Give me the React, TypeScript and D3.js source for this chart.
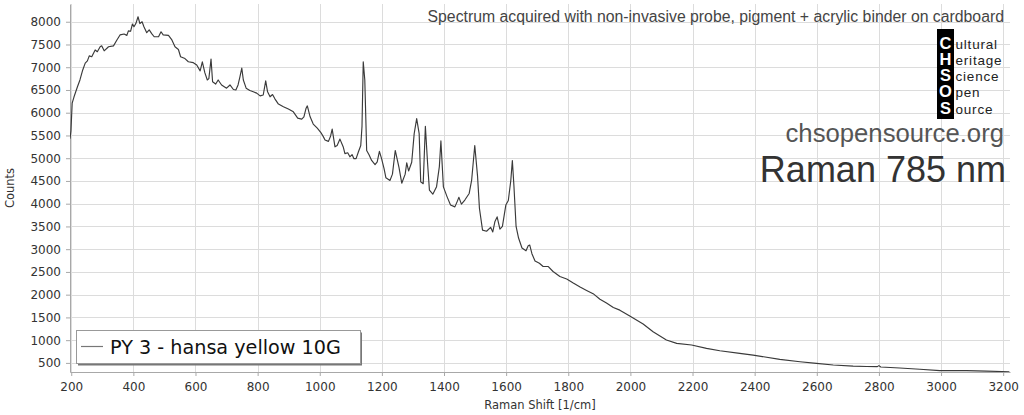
import React, { useEffect, useRef } from 'react';
import * as d3 from 'd3';

// Raman shift (1/cm) and counts
const ramanShift = [
  196, 199, 203, 209, 220, 228, 237, 245, 252, 258, 266, 277, 284, 293, 298, 306, 320, 336, 347, 357,
  370, 379, 384, 391, 397, 402, 408, 415, 421, 428, 434, 443, 451, 459, 467, 481, 489, 496, 513, 524,
  534, 545, 552, 566, 577, 593, 604, 615, 622, 630, 638, 643, 650, 655, 665, 673, 684, 700, 711, 722,
  730, 737, 743, 749, 754, 763, 775, 786, 797, 808, 818, 826, 832, 840, 848, 856, 867, 883, 899, 915,
  929, 942, 949, 956, 960, 969, 979, 992, 1003, 1011, 1017, 1028, 1035, 1040, 1049, 1056, 1065, 1076, 1081, 1090,
  1097, 1104, 1110, 1117, 1124, 1132, 1136, 1140, 1145, 1151, 1159, 1167, 1178, 1185, 1192, 1199, 1207, 1213, 1226, 1234,
  1243, 1255, 1264, 1275, 1280, 1286, 1296, 1304, 1312, 1320, 1325, 1333, 1340, 1347, 1353, 1364, 1376, 1385, 1390, 1398,
  1410, 1421, 1435, 1442, 1448, 1456, 1467, 1481, 1489, 1499, 1508, 1514, 1524, 1537, 1550, 1557, 1564, 1571, 1580, 1588,
  1599, 1607, 1615, 1620, 1625, 1632, 1640, 1651, 1664, 1671, 1676, 1683, 1693, 1707, 1719, 1735, 1751, 1773, 1795, 1816,
  1838, 1859, 1880, 1902, 1923, 1945, 1966, 1998, 2041, 2073, 2116, 2149, 2197, 2245, 2288, 2352, 2395, 2481, 2546, 2599,
  2653, 2717, 2760, 2795, 2800, 2806, 2867, 2932, 2996, 3082, 3146, 3220,
];
const counts = [
  5430, 5600, 6210, 6350, 6570, 6720, 6940, 7090, 7140, 7250, 7230, 7380, 7340, 7450, 7470, 7360, 7450, 7470, 7600, 7710,
  7730, 7700, 7800, 7790, 7950, 7890, 7960, 8110, 7960, 8000, 7890, 7760, 7820, 7740, 7670, 7670, 7780, 7710, 7700, 7600,
  7450, 7390, 7230, 7190, 7120, 7100, 7050, 6920, 7120, 6880, 6720, 6750, 7180, 6680, 6630, 6720, 6610, 6540, 6610, 6510,
  6500, 6610, 6790, 6980, 6720, 6540, 6490, 6460, 6430, 6370, 6390, 6700, 6460, 6350, 6400, 6300, 6190, 6130, 6080, 6020,
  5880, 5860, 5910, 6100, 6150, 5910, 5750, 5660, 5570, 5480, 5400, 5370, 5490, 5640, 5250, 5280, 5420, 5240, 5100, 5120,
  5030, 5080, 4990, 4990, 5130, 5280, 5700, 7120, 6720, 5170, 5070, 4950, 4860, 4920, 5150, 4990, 4770, 4570, 4510, 4650,
  5170, 4800, 4450, 4650, 4900, 4720, 4910, 5540, 5870, 5540, 4480, 4440, 5700, 4900, 4300, 4210, 4375, 4815, 5380, 4370,
  4150, 3970, 3930, 4040, 4140, 3990, 4080, 4225, 4520, 5280, 4600, 3900, 3420, 3395, 3480, 3380, 3610, 3710, 3440, 3500,
  3970, 4070, 4510, 4950, 4400, 3500, 3245, 3025, 2965, 3075, 3090, 2900, 2740, 2690, 2620, 2620, 2510, 2400, 2345, 2256,
  2168, 2094, 2022, 1900, 1817, 1720, 1660, 1530, 1355, 1186, 1004, 930, 894, 820, 768, 710, 672, 578, 526, 490,
  453, 430, 422, 418, 440, 410, 388, 361, 330, 330, 320, 305,
];

const xTickValues = [200, 400, 600, 800, 1000, 1200, 1400, 1600, 1800, 2000, 2200, 2400, 2600, 2800, 3000, 3200];
const yTickValues = [500, 1000, 1500, 2000, 2500, 3000, 3500, 4000, 4500, 5000, 5500, 6000, 6500, 7000, 7500, 8000];

const seriesName = 'PY 3 - hansa yellow 10G';
const subtitle = 'Spectrum acquired with non-invasive probe, pigment + acrylic binder on cardboard';
const siteName = 'chsopensource.org';
const techniqueName = 'Raman 785 nm';
const logoLetters = ['C', 'H', 'S', 'O', 'S'];
const logoWords = ['ultural', 'eritage', 'cience', 'pen', 'ource'];

const App: React.FC = () => {
  const chartRef = useRef<SVGSVGElement | null>(null);

  useEffect(() => {
    if (!chartRef.current) return;
    const svg = d3.select(chartRef.current);
    svg.selectAll('*').remove();

    const width = 1024;
    const height = 415;
    const margin = { top: 4, right: 14, bottom: 43, left: 70 };
    const axisFont = '"DejaVu Sans", Verdana, sans-serif';
    const textFont = '"Liberation Sans", Arial, sans-serif';

    const x = d3.scaleLinear().domain([196, 3222]).range([margin.left, width - margin.right]);
    const y = d3.scaleLinear().domain([300, 8390]).range([height - margin.bottom, margin.top]);

    svg.append('rect').attr('width', width).attr('height', height).attr('fill', '#fff');

    // grid
    const grid = svg.append('g').attr('stroke', '#dcdcdc').attr('stroke-width', 1);
    grid.selectAll('.gx')
      .data(xTickValues)
      .enter()
      .append('line')
      .attr('x1', (d) => Math.round(x(d)) + 0.5)
      .attr('x2', (d) => Math.round(x(d)) + 0.5)
      .attr('y1', margin.top)
      .attr('y2', height - margin.bottom);
    grid.selectAll('.gy')
      .data(yTickValues)
      .enter()
      .append('line')
      .attr('y1', (d) => Math.round(y(d)) + 0.5)
      .attr('y2', (d) => Math.round(y(d)) + 0.5)
      .attr('x1', margin.left)
      .attr('x2', width - margin.right);

    // minor ticks
    const xMinor = d3.range(200, 3222, 50).filter((v) => v % 200 !== 0);
    const yMinor = d3.range(300, 8390, 100).filter((v) => v % 500 !== 0);

    const xAxisG = svg.append('g').attr('transform', `translate(0,${height - margin.bottom})`);
    xAxisG.call(d3.axisBottom(x).tickValues(xMinor).tickFormat(() => '').tickSize(2).tickSizeOuter(0));
    xAxisG.call(d3.axisBottom(x).tickValues(xTickValues).tickSize(4).tickSizeOuter(0).tickPadding(6).tickFormat((d) => `${d}`));

    const yAxisG = svg.append('g').attr('transform', `translate(${margin.left},0)`);
    yAxisG.call(d3.axisLeft(y).tickValues(yMinor).tickFormat(() => '').tickSize(2).tickSizeOuter(0));
    yAxisG.call(d3.axisLeft(y).tickValues(yTickValues).tickSize(4).tickSizeOuter(0).tickPadding(5).tickFormat((d) => `${d}`));

    [xAxisG, yAxisG].forEach((g) => {
      g.selectAll('path').attr('stroke', '#a8a8a8');
      g.selectAll('line').attr('stroke', '#a8a8a8');
      g.selectAll('text').attr('fill', '#333').attr('font-family', axisFont).attr('font-size', 12);
    });

    // axis titles
    svg.append('text')
      .attr('x', (margin.left + width - margin.right) / 2)
      .attr('y', 409)
      .attr('text-anchor', 'middle')
      .attr('font-family', axisFont)
      .attr('font-size', 11.5)
      .attr('fill', '#333')
      .text('Raman Shift [1/cm]');
    svg.append('text')
      .attr('transform', `translate(14,${(margin.top + height - margin.bottom) / 2}) rotate(-90)`)
      .attr('text-anchor', 'middle')
      .attr('font-family', axisFont)
      .attr('font-size', 11.5)
      .attr('fill', '#333')
      .text('Counts');

    // spectrum
    svg.append('clipPath').attr('id', 'plot-clip')
      .append('rect')
      .attr('x', margin.left)
      .attr('y', margin.top)
      .attr('width', width - margin.left - margin.right)
      .attr('height', height - margin.top - margin.bottom);

    const line = d3.line<number>()
      .x((_, i) => x(ramanShift[i]))
      .y((d) => y(d));

    svg.append('path')
      .datum(counts)
      .attr('clip-path', 'url(#plot-clip)')
      .attr('fill', 'none')
      .attr('stroke', '#3a3a3a')
      .attr('stroke-width', 1.15)
      .attr('stroke-linejoin', 'round')
      .attr('d', line);

    // texts top right
    const rightX = 1004;
    svg.append('text')
      .attr('x', rightX)
      .attr('y', 22)
      .attr('text-anchor', 'end')
      .attr('font-family', textFont)
      .attr('font-size', 15.8)
      .attr('fill', '#444')
      .text(subtitle);

    const logo = svg.append('g');
    logo.append('rect')
      .attr('x', 937)
      .attr('y', 29)
      .attr('width', 17)
      .attr('height', 90)
      .attr('fill', '#000');
    logo.selectAll('.ll')
      .data(logoLetters)
      .enter()
      .append('text')
      .attr('x', 945.5)
      .attr('y', (_, i) => 48.5 + i * 16.3)
      .attr('text-anchor', 'middle')
      .attr('font-family', textFont)
      .attr('font-weight', 'bold')
      .attr('font-size', 16.5)
      .attr('fill', '#fff')
      .text((d) => d);
    logo.selectAll('.lw')
      .data(logoWords)
      .enter()
      .append('text')
      .attr('x', 955.5)
      .attr('y', (_, i) => 48.5 + i * 16.3)
      .attr('font-family', textFont)
      .attr('font-size', 13.5)
      .attr('letter-spacing', 0.8)
      .attr('fill', '#222')
      .text((d) => d);

    svg.append('text')
      .attr('x', rightX)
      .attr('y', 141.5)
      .attr('text-anchor', 'end')
      .attr('font-family', textFont)
      .attr('font-size', 25.7)
      .attr('fill', '#555')
      .text(siteName);
    svg.append('text')
      .attr('x', rightX + 2)
      .attr('y', 182)
      .attr('text-anchor', 'end')
      .attr('font-family', textFont)
      .attr('font-size', 36)
      .attr('fill', '#333')
      .text(techniqueName);

    // legend
    const legend = svg.append('g').attr('transform', 'translate(76,330)');
    legend.append('rect')
      .attr('x', 2)
      .attr('y', 2.5)
      .attr('width', 284)
      .attr('height', 33)
      .attr('fill', '#777');
    legend.append('rect')
      .attr('x', 0.5)
      .attr('y', 0.5)
      .attr('width', 284)
      .attr('height', 33)
      .attr('fill', '#fff')
      .attr('stroke', '#999');
    legend.append('line')
      .attr('x1', 5)
      .attr('x2', 27)
      .attr('y1', 16.5)
      .attr('y2', 16.5)
      .attr('stroke', '#777')
      .attr('stroke-width', 1.2);
    legend.append('text')
      .attr('x', 34)
      .attr('y', 23.5)
      .attr('font-family', axisFont)
      .attr('font-size', 19.2)
      .attr('fill', '#111')
      .text(seriesName);
  }, []);

  return (
    <svg ref={chartRef} width={1024} height={415} style={{ position: 'absolute', left: 0, top: 0 }} />
  );
};

export default App;
